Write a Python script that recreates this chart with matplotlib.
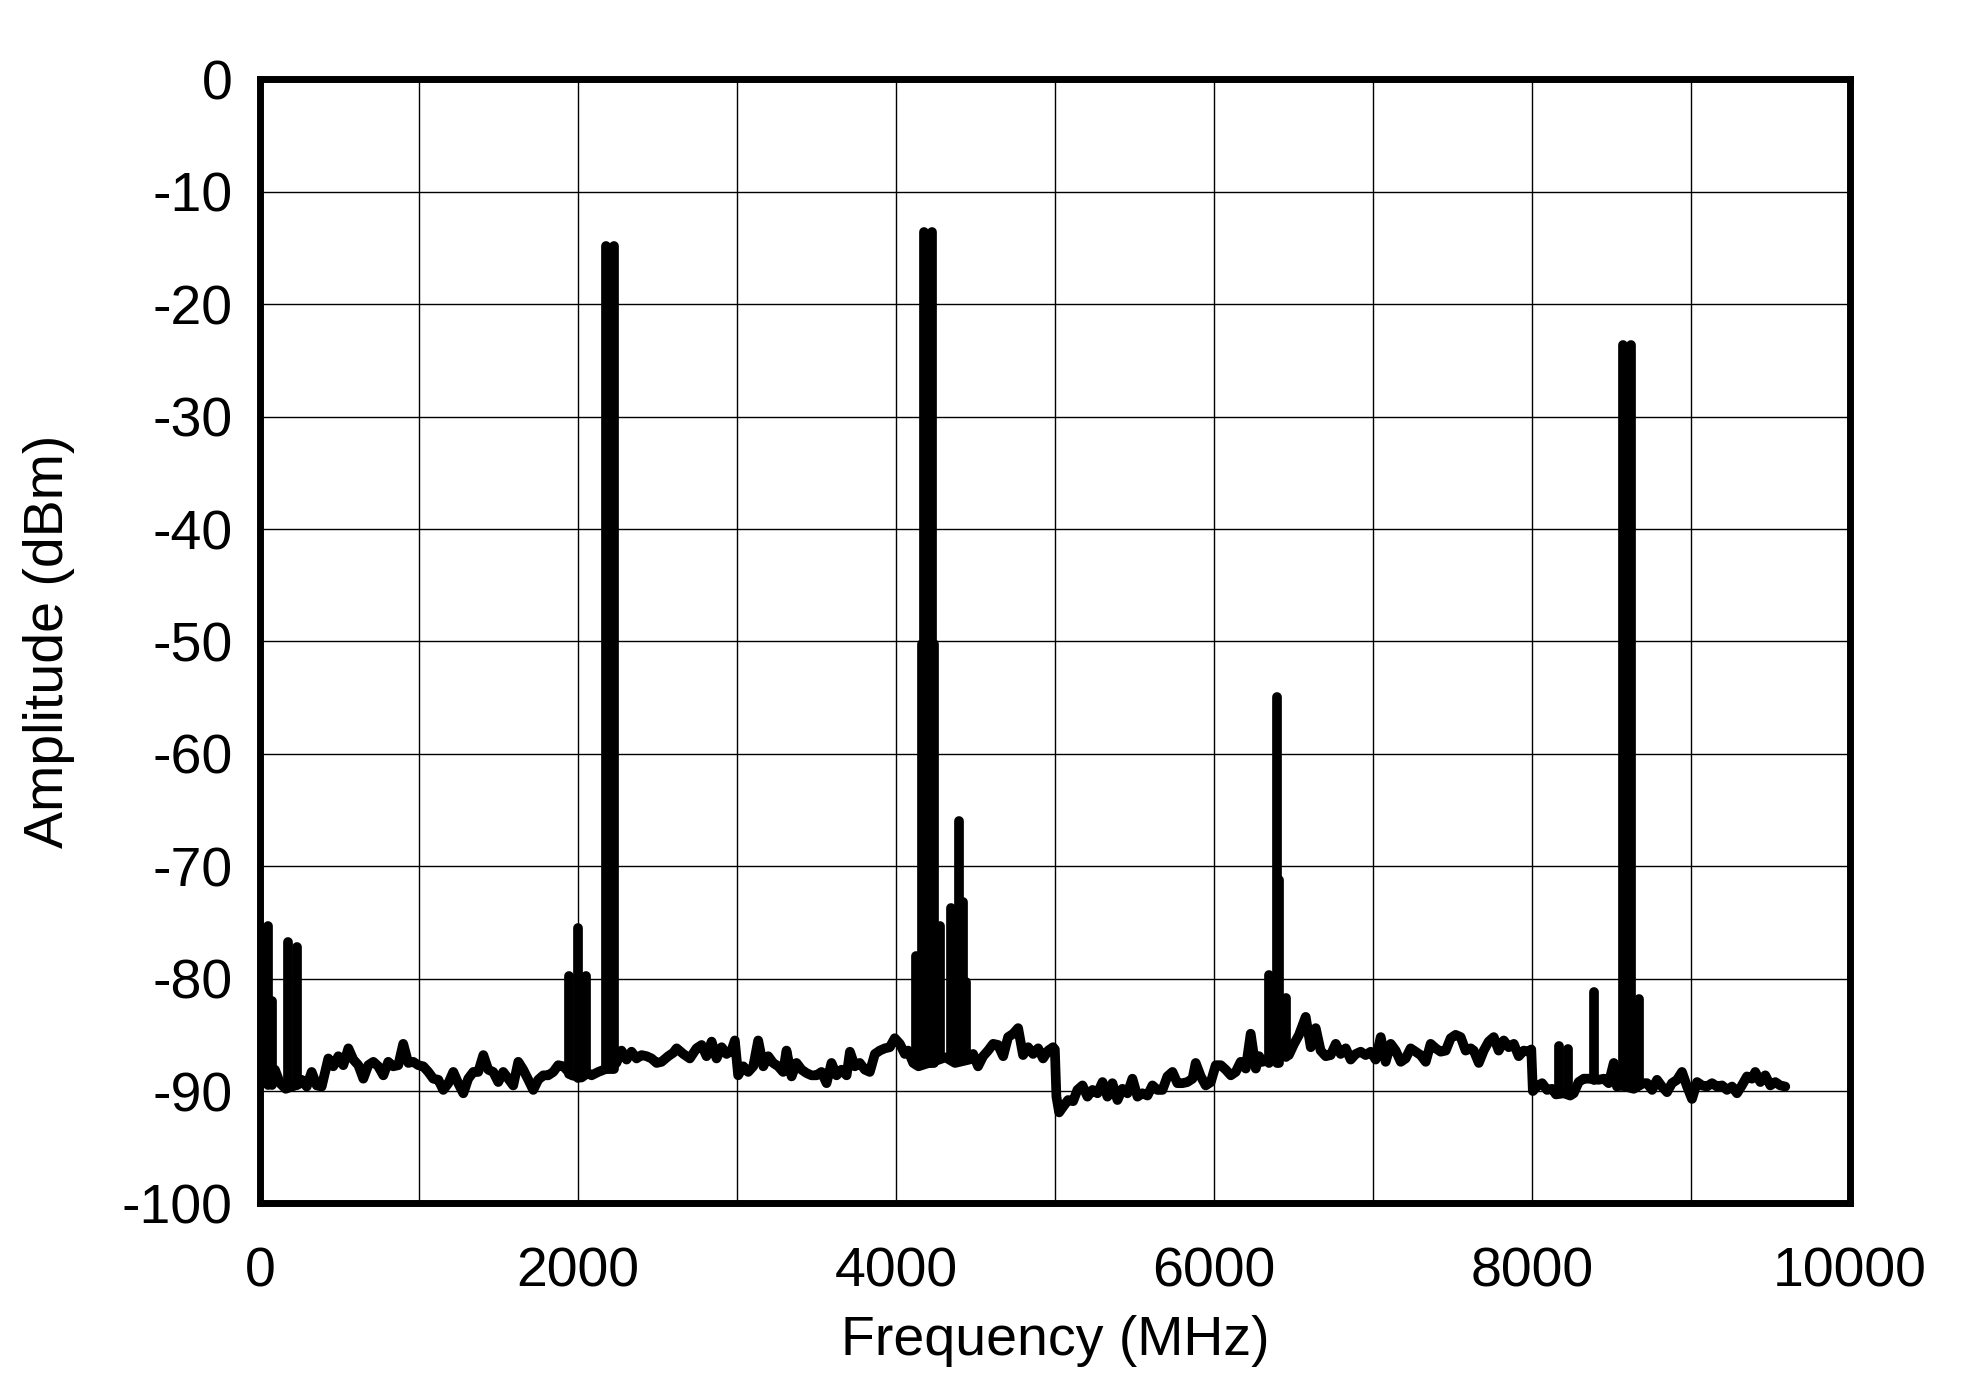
import matplotlib
matplotlib.use('Agg')
import matplotlib.pyplot as plt

plt.rcParams['font.family'] = ['Liberation Sans', 'DejaVu Sans']
plt.rcParams['axes.unicode_minus'] = False

# noise floor of the spectrum (MHz, dBm)
floor_freq = [
    30, 92, 124, 160, 200, 240, 260, 292, 323, 355, 386, 428, 459, 491, 522, 554,
    585, 617, 648, 679, 711, 742, 774, 805, 836, 868, 899, 931, 962, 994, 1025,
    1057, 1088, 1120, 1151, 1183, 1214, 1245, 1277, 1308, 1340, 1371, 1403, 1434,
    1465, 1497, 1528, 1560, 1591, 1623, 1654, 1686, 1717, 1748, 1780, 1811, 1843,
    1874, 1906, 1960, 2020, 2060, 2084, 2126, 2180, 2240, 2272, 2304, 2335, 2367,
    2398, 2430, 2461, 2493, 2524, 2566, 2597, 2619, 2661, 2702, 2744, 2776, 2807,
    2839, 2870, 2902, 2933, 2964, 2985, 3006, 3038, 3069, 3101, 3132, 3164, 3195,
    3226, 3258, 3289, 3310, 3342, 3373, 3405, 3436, 3467, 3499, 3530, 3562, 3593,
    3625, 3656, 3688, 3709, 3740, 3771, 3803, 3834, 3866, 3897, 3929, 3960, 3991,
    4023, 4054, 4075, 4107, 4140, 4250, 4310, 4370, 4460, 4484, 4515, 4547, 4578,
    4610, 4641, 4673, 4704, 4736, 4767, 4798, 4830, 4861, 4893, 4924, 4956, 4987,
    4998, 5008, 5025, 5050, 5081, 5113, 5140, 5172, 5203, 5235, 5266, 5298, 5329,
    5360, 5392, 5423, 5455, 5486, 5518, 5549, 5581, 5612, 5643, 5675, 5706, 5738,
    5769, 5801, 5832, 5864, 5884, 5916, 5947, 5979, 6010, 6042, 6073, 6105, 6136,
    6167, 6199, 6230, 6262, 6283, 6304, 6335, 6380, 6420, 6470, 6503, 6534, 6576,
    6608, 6639, 6670, 6702, 6733, 6765, 6796, 6828, 6859, 6891, 6922, 6953, 6985,
    7016, 7048, 7079, 7111, 7142, 7174, 7205, 7236, 7268, 7299, 7331, 7362, 7394,
    7425, 7457, 7488, 7519, 7551, 7582, 7614, 7633, 7665, 7696, 7727, 7759, 7790,
    7822, 7853, 7885, 7916, 7948, 7979, 7995, 8005, 8031, 8063, 8094, 8126, 8150,
    8200, 8240, 8262, 8293, 8325, 8356, 8419, 8451, 8482, 8514, 8534, 8560, 8640,
    8700, 8723, 8755, 8786, 8817, 8849, 8880, 8912, 8943, 8975, 9006, 9038, 9069,
    9100, 9132, 9163, 9195, 9226, 9258, 9289, 9320, 9352, 9383, 9404, 9436, 9467,
    9499, 9530, 9561, 9593,
]
floor_db = [
    -89.3, -88.1, -89.3, -89.8, -89.6, -89.4, -89.0, -89.6, -88.3, -89.5, -89.6,
    -87.1, -87.8, -86.9, -87.7, -86.2, -87.2, -87.7, -88.9, -87.7, -87.4, -87.8,
    -88.6, -87.4, -87.8, -87.7, -85.8, -87.5, -87.4, -87.7, -87.8, -88.3, -88.9,
    -89.0, -89.9, -89.3, -88.3, -89.3, -90.2, -88.9, -88.3, -88.3, -86.8, -88.1,
    -88.3, -89.2, -88.3, -88.9, -89.5, -87.4, -88.1, -89.0, -89.9, -89.0, -88.6,
    -88.6, -88.3, -87.7, -87.8, -88.6, -88.8, -88.4, -88.6, -88.3, -88.0, -87.5,
    -86.4, -87.2, -86.5, -87.1, -86.8, -86.9, -87.1, -87.5, -87.4, -86.9, -86.6,
    -86.2, -86.7, -87.1, -86.2, -85.9, -86.9, -85.6, -87.1, -86.1, -86.7, -86.4,
    -85.5, -88.6, -87.8, -88.3, -87.8, -85.5, -87.8, -86.9, -87.5, -87.8, -88.3,
    -86.4, -88.7, -87.5, -88.1, -88.4, -88.6, -88.6, -88.3, -89.3, -87.5, -88.6,
    -88.1, -88.6, -86.5, -87.8, -87.5, -88.1, -88.3, -86.7, -86.4, -86.2, -86.1,
    -85.3, -85.8, -86.7, -86.4, -87.5, -87.8, -87.3, -87.0, -87.5, -87.2, -86.7,
    -87.8, -86.9, -86.4, -85.8, -85.9, -86.9, -85.2, -84.9, -84.4, -86.8, -86.1,
    -86.7, -86.2, -87.1, -86.4, -86.1, -86.3, -90.5, -91.9, -91.4, -90.8, -90.9,
    -89.9, -89.5, -90.5, -89.9, -90.2, -89.2, -90.5, -89.3, -90.8, -89.8, -90.2,
    -88.9, -90.5, -90.2, -90.4, -89.5, -89.9, -89.9, -88.7, -88.3, -89.3, -89.3,
    -89.2, -88.9, -87.5, -88.7, -89.5, -89.2, -87.7, -87.7, -88.1, -88.6, -88.3,
    -87.4, -88.0, -84.9, -88.0, -86.9, -87.4, -87.2, -87.0, -86.5, -86.8, -85.8,
    -85.0, -83.4, -86.1, -84.4, -86.4, -86.9, -86.8, -85.8, -86.7, -86.2, -87.2,
    -86.7, -86.5, -86.8, -86.5, -87.2, -85.2, -87.4, -85.8, -86.4, -87.4, -87.1,
    -86.2, -86.5, -86.8, -87.4, -85.8, -86.2, -86.5, -86.4, -85.3, -85.0, -85.2,
    -86.4, -86.2, -86.4, -87.5, -86.4, -85.6, -85.2, -86.4, -85.5, -86.1, -85.8,
    -86.9, -86.4, -86.5, -86.3, -90.0, -89.6, -89.3, -89.9, -89.8, -90.3, -90.2,
    -90.4, -90.2, -89.2, -88.9, -88.9, -89.0, -88.9, -89.3, -87.5, -89.6, -89.5,
    -89.8, -89.3, -89.3, -89.9, -89.0, -89.6, -90.1, -89.3, -89.0, -88.3, -89.6,
    -90.7, -89.2, -89.5, -89.6, -89.3, -89.6, -89.5, -89.9, -89.6, -90.2, -89.5,
    -88.7, -88.9, -88.3, -89.2, -88.6, -89.5, -89.2, -89.5, -89.6,
]

# spurs and tones: frequency, floor under the spur, peak level
spike_freq = [50, 75, 175, 228, 1941, 2000, 2046, 2172, 2186, 2200, 2213, 2226,
              4122, 4165, 4176, 4188, 4200, 4212, 4224, 4235, 4275, 4344, 4396, 4421, 4440,
              6346, 6396, 6410, 6449, 8172, 8224, 8387, 8572, 8585, 8598, 8611, 8625, 8673]
spike_base = [-89.5, -89.5, -89.5, -89.5, -88.5, -88.8, -88.5, -88.0, -88.0, -88.0, -88.0, -88.0,
              -87.0, -87.5, -87.5, -87.5, -87.5, -87.5, -87.5, -87.5, -87.0, -87.0, -87.0, -87.0, -87.0,
              -87.5, -87.5, -87.5, -87.0, -90.0, -90.0, -89.0, -89.5, -89.5, -89.5, -89.5, -89.5, -89.5]
spike_peak = [-75.3, -82.0, -76.7, -77.2, -79.8, -75.5, -79.8, -14.8, -15.2, -15.4, -15.2, -14.8,
              -78.0, -50.2, -13.6, -14.0, -14.2, -14.0, -13.6, -50.2, -75.3, -73.7, -66.0, -73.2, -80.3,
              -79.7, -54.9, -71.2, -81.7, -86.0, -86.3, -81.2, -23.6, -23.9, -24.1, -23.9, -23.6, -81.8]

x_ticks = [0, 2000, 4000, 6000, 8000, 10000]
x_minor = [1000, 3000, 5000, 7000, 9000]
y_ticks = [0, -10, -20, -30, -40, -50, -60, -70, -80, -90, -100]

fig = plt.figure(figsize=(19.66, 13.82), dpi=100)
ax = fig.add_axes([0.1324, 0.1292, 0.8086, 0.8133])

lw = 7
ax.plot(floor_freq, floor_db, color='black', lw=lw,
        solid_joinstyle='round', solid_capstyle='round', zorder=3)
ax.vlines(spike_freq, spike_base, spike_peak, colors='black', lw=lw,
          capstyle='round', zorder=3)

ax.set_xlim(0, 10000)
ax.set_ylim(-100, 0)
ax.set_xticks(x_ticks)
ax.set_xticks(x_minor, minor=True)
ax.set_yticks(y_ticks)
ax.grid(which='both', color='black', lw=1.0)
ax.set_axisbelow(True)
ax.tick_params(axis='x', which='both', length=0, labelsize=40, pad=31)
ax.tick_params(axis='y', which='both', length=0, labelsize=40, pad=20)

for sp in ax.spines.values():
    sp.set_linewidth(5)
    sp.set_zorder(4)

ax.set_xlabel('Frequency (MHz)', fontsize=40)
ax.set_ylabel('Amplitude (dBm)', fontsize=40)
ax.xaxis.set_label_coords(0.5, -0.0995)
ax.yaxis.set_label_coords(-0.1166, 0.5)

fig.savefig('out.png', dpi=100)
